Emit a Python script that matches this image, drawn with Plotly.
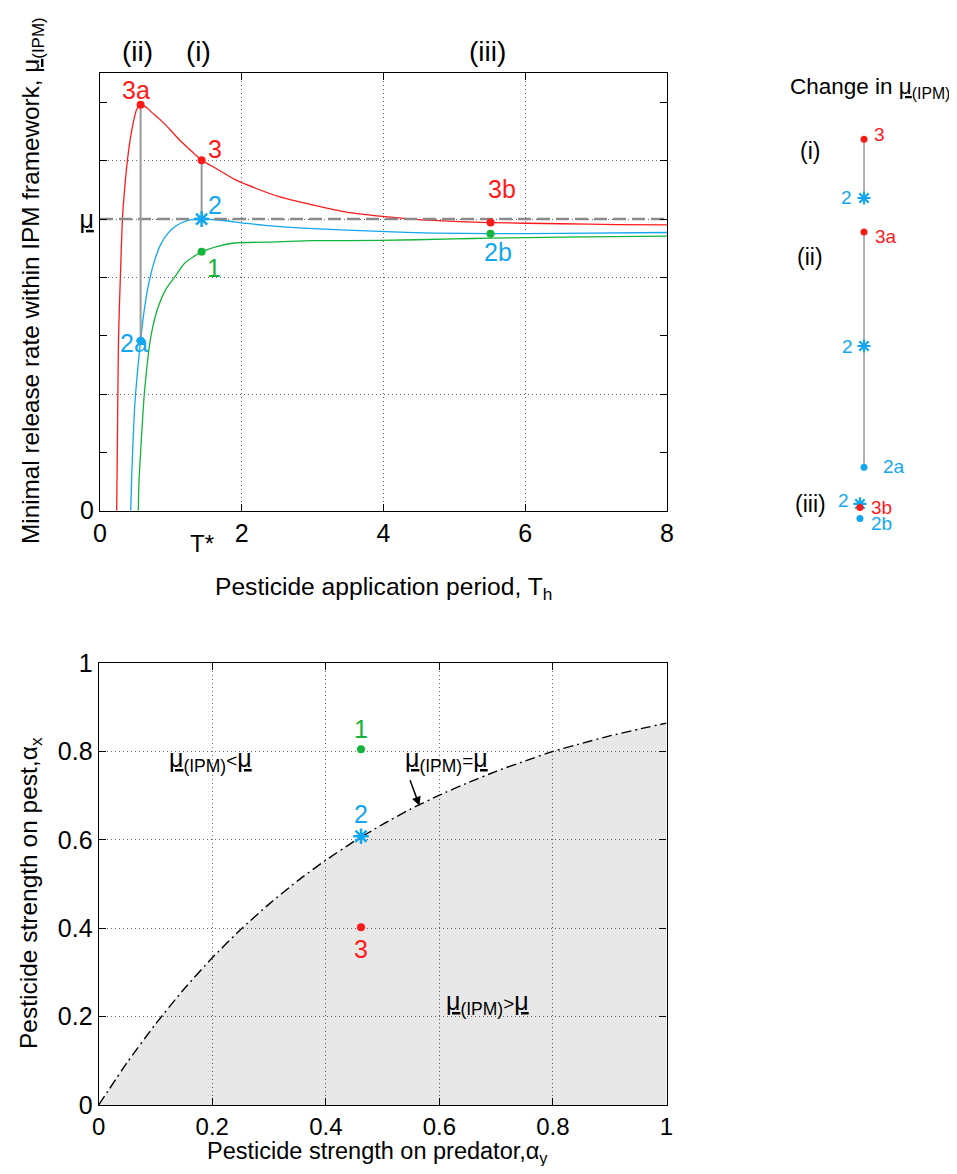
import plotly.graph_objects as go

W, H = 957, 1174          # browser window
OFF = 8                   # default page margin around the figure
FW, FH = W - 2 * OFF, H - 2 * OFF
FONT = "Liberation Sans, Arial, Helvetica, sans-serif"
RED, BLUE, GREEN, GRAY = "#ff1a1a", "#12a7f0", "#13b43a", "#9a9a9a"

def fx(p):  # page pixel x -> paper
    return (p - OFF) / FW

def fy(p):  # page pixel y -> paper
    return 1 - (p - OFF) / FH

# ---------------- data : top panel ----------------
red_T = [0.235, 0.244, 0.252, 0.262, 0.287, 0.316, 0.343, 0.386, 0.423, 0.46, 0.517, 0.573,
         0.65, 0.73, 0.87, 1.0, 1.12, 1.25, 1.34, 1.434, 1.65, 1.9, 2.07, 2.54, 3.01, 3.48,
         3.95, 4.5, 5.0, 5.51, 6.5, 7.3, 8.0]
red_mu = [0.0, 0.1, 0.2, 0.3, 0.4, 0.5, 0.545, 0.6, 0.634, 0.66, 0.688, 0.696,
          0.692, 0.683, 0.668, 0.652, 0.636, 0.621, 0.611, 0.601, 0.586, 0.568, 0.559, 0.538,
          0.524, 0.512, 0.505, 0.499, 0.496, 0.494, 0.492, 0.4905, 0.490]
blue_T = [0.433, 0.445, 0.46, 0.49, 0.53, 0.573, 0.62, 0.68, 0.76, 0.85, 0.96, 1.08, 1.22,
          1.434, 1.7, 2.07, 2.54, 3.01, 3.95, 4.7, 5.51, 6.5, 8.0]
blue_mu = [0.0, 0.05, 0.1, 0.18, 0.24, 0.2916, 0.34, 0.385, 0.425, 0.455, 0.476, 0.489, 0.497,
           0.5, 0.498, 0.4925, 0.487, 0.4835, 0.479, 0.476, 0.475, 0.4755, 0.477]
green_T = [0.54, 0.55, 0.573, 0.625, 0.72, 0.823, 0.93, 1.05, 1.2, 1.434, 1.65, 1.9, 2.5, 3.0,
           3.95, 5.0, 5.51, 6.5, 8.0]
green_mu = [0.0, 0.05, 0.1, 0.2, 0.3, 0.35, 0.38, 0.4, 0.425, 0.444, 0.453, 0.459, 0.461, 0.463,
            0.4634, 0.466, 0.4674, 0.469, 0.4708]
mu_bar = 0.5
T_star = 1.434

# marked points in the top panel
pt_T = [0.573, 1.434, 1.434, 1.434, 0.573, 5.51, 5.51]
pt_mu = [0.696, 0.601, 0.5, 0.444, 0.2916, 0.494, 0.475]
pt_label = ["3a", "3", "2", "1", "2a", "3b", "2b"]
pt_color = [RED, RED, BLUE, GREEN, BLUE, RED, GREEN]
pt_label_color = [RED, RED, BLUE, GREEN, BLUE, RED, BLUE]
pt_symbol = ["circle", "circle", "asterisk-open", "circle", "circle", "circle", "circle"]
pt_dx = [-5, 13, 13, 12, -7, 11, 7]
pt_dy = [15, 11, 14, -16, -2, 34, -18]

# vertical connectors
conn_T = [0.573, 1.434]
conn_lo = [0.2916, 0.5]
conn_hi = [0.696, 0.601]

case_labels = ["(ii)", "(i)", "(iii)"]
case_T = [0.573, 1.434, 5.51]

# ---------------- data : right panel ----------------
grp_names = ["(i)", "(ii)", "(iii)"]
grp_labels = [["3", "2"], ["3a", "2", "2a"], ["2", "3b", "2b"]]
grp_values = [[0.601, 0.5], [0.696, 0.5, 0.2916], [0.5, 0.494, 0.475]]
grp_colors = [[RED, BLUE], [RED, BLUE, BLUE], [BLUE, RED, BLUE]]
grp_symbols = [["circle", "asterisk-open"], ["circle", "asterisk-open", "circle"],
               ["asterisk-open", "circle", "circle"]]
grp_offset = [0.0876, -0.1667, -0.4381]
grp_x = [0.553, 0.553, 0.529]
grp_lab_dx = [[15, -18], [22, -17, 30], [-16, 22, 22]]
grp_lab_dy = [[5, 0], [-5, 0, 1], [3, 0, -5]]
grp_name_py = [151, 257, 504]

# ---------------- data : bottom panel ----------------
alpha_y = [0, 0.05, 0.1, 0.15, 0.2, 0.25, 0.3, 0.35, 0.4, 0.45, 0.5, 0.55, 0.6, 0.65, 0.7,
           0.75, 0.8, 0.85, 0.9, 0.95, 1.0]
alpha_x_boundary = [0, 0.096, 0.183, 0.262, 0.333, 0.397, 0.4545, 0.507, 0.554, 0.5965, 0.635,
                    0.670, 0.701, 0.729, 0.755, 0.778, 0.800, 0.818, 0.835, 0.850, 0.864]
bp_ay = [0.462, 0.462, 0.462]
bp_ax = [0.805, 0.608, 0.402]
bp_label = ["1", "2", "3"]
bp_color = [GREEN, BLUE, RED]
bp_symbol = ["circle", "asterisk-open", "circle"]
bp_dy = [20, 22, -22]

fig = go.Figure()

# ---- top panel curves ----
for T, m, c in [(red_T, red_mu, RED), (blue_T, blue_mu, BLUE), (green_T, green_mu, GREEN)]:
    fig.add_trace(go.Scatter(x=T, y=m, mode="lines", line=dict(color=c, width=1.3, shape="spline", smoothing=0.6),
                             xaxis="x", yaxis="y", showlegend=False, hoverinfo="skip"))
fig.add_trace(go.Scatter(x=[0, 8], y=[mu_bar, mu_bar], mode="lines",
                         line=dict(color="#8a8a8a", width=2.5, dash="13px,6px"),
                         xaxis="x", yaxis="y", showlegend=False))
for t, lo, hi in zip(conn_T, conn_lo, conn_hi):
    fig.add_trace(go.Scatter(x=[t, t], y=[lo, hi], mode="lines", line=dict(color=GRAY, width=2),
                             xaxis="x", yaxis="y", showlegend=False))
for t, m, c, s in zip(pt_T, pt_mu, pt_color, pt_symbol):
    fig.add_trace(go.Scatter(x=[t], y=[m], mode="markers",
                             marker=dict(color=c, symbol=s, size=13 if "asterisk" in s else 8,
                                         line=dict(color=c, width=2.5 if "asterisk" in s else 0)),
                             xaxis="x", yaxis="y", showlegend=False))
# green T* tick below axis
fig.add_trace(go.Scatter(x=[T_star], y=[-0.016], mode="markers", cliponaxis=False,
                         marker=dict(symbol="line-ns", size=12, line=dict(color=GREEN, width=2)),
                         xaxis="x", yaxis="y", showlegend=False))

# ---- right panel ----
for gi in range(3):
    ys = [grp_offset[gi] + v for v in grp_values[gi]]
    xs = [grp_x[gi]] * len(ys)
    if gi < 2:
        fig.add_trace(go.Scatter(x=[xs[0], xs[-1]], y=[ys[0], ys[-1]], mode="lines",
                                 line=dict(color=GRAY, width=1.5), xaxis="x3", yaxis="y3", showlegend=False))
    for x, y, c, s in zip(xs, ys, grp_colors[gi], grp_symbols[gi]):
        fig.add_trace(go.Scatter(x=[x], y=[y], mode="markers",
                                 marker=dict(color=c, symbol=s, size=11 if "asterisk" in s else 7,
                                             line=dict(color=c, width=2.2 if "asterisk" in s else 0)),
                                 xaxis="x3", yaxis="y3", showlegend=False))

# ---- bottom panel ----
fig.add_trace(go.Scatter(x=alpha_y, y=alpha_x_boundary, mode="lines", fill="tozeroy",
                         fillcolor="rgba(0,0,0,0.09)",
                         line=dict(color="black", width=1.4, dash="10px,4px,2px,4px", shape="spline", smoothing=0.5),
                         xaxis="x2", yaxis="y2", showlegend=False))
for a, b, c, s in zip(bp_ay, bp_ax, bp_color, bp_symbol):
    fig.add_trace(go.Scatter(x=[a], y=[b], mode="markers",
                             marker=dict(color=c, symbol=s, size=13 if "asterisk" in s else 8,
                                         line=dict(color=c, width=2.5 if "asterisk" in s else 0)),
                             xaxis="x2", yaxis="y2", showlegend=False))

C = dict(xanchor="center", yanchor="middle", showarrow=False)
ann = []
# top point labels
for t, m, lab, c, dx, dy in zip(pt_T, pt_mu, pt_label, pt_label_color, pt_dx, pt_dy):
    ann.append(dict(C, x=t, y=m, xref="x", yref="y", text=lab, xshift=dx, yshift=dy,
                    font=dict(family=FONT, size=25, color=c)))
for lab, t in zip(case_labels, case_T):
    ann.append(dict(C, x=t, y=fy(52), xref="x", yref="paper", text=lab, xshift=-3,
                    font=dict(family=FONT, size=28, color="black")))
ann.append(dict(C, x=T_star, y=fy(543), xref="x", yref="paper", text="T*",
                font=dict(family=FONT, size=24, color="black")))
ann.append(dict(C, x=fx(383), y=fy(588), xref="paper", yref="paper",
                text="Pesticide application period, T<sub>h</sub>",
                font=dict(family=FONT, size=24.6, color="black")))
ann.append(dict(C, x=fx(33), y=fy(281), xref="paper", yref="paper", textangle=-90,
                text="Minimal release rate within IPM framework, <u>μ</u><sub>(IPM)</sub>",
                font=dict(family=FONT, size=24.3, color="black")))
# right panel labels
ann.append(dict(C, x=fx(870), y=fy(88), xref="paper", yref="paper",
                text="Change in <u>μ</u><sub>(IPM)</sub>",
                font=dict(family=FONT, size=22.5, color="black")))
for gi in range(3):
    ann.append(dict(C, x=fx(810), y=fy(grp_name_py[gi]), xref="paper", yref="paper", text=grp_names[gi],
                    font=dict(family=FONT, size=23, color="black")))
    for lab, v, c, dx, dy in zip(grp_labels[gi], grp_values[gi], grp_colors[gi], grp_lab_dx[gi], grp_lab_dy[gi]):
        ann.append(dict(C, x=grp_x[gi], y=grp_offset[gi] + v, xref="x3", yref="y3", text=lab,
                        xshift=dx, yshift=dy, font=dict(family=FONT, size=19, color=c)))
# bottom labels
for a, b, lab, c, dy in zip(bp_ay, bp_ax, bp_label, bp_color, bp_dy):
    ann.append(dict(C, x=a, y=b, xref="x2", yref="y2", text=lab, yshift=dy,
                    font=dict(family=FONT, size=25, color=c)))
REL = "<u>μ</u><sub>(IPM)</sub><span style='font-size:19px'>%s</span><u>μ</u>"
ann.append(dict(C, x=fx(210), y=fy(760), xref="paper", yref="paper", text=REL % "&lt;",
                font=dict(family=FONT, size=25, color="black")))
ann.append(dict(C, x=fx(446), y=fy(760), xref="paper", yref="paper", text=REL % "=",
                font=dict(family=FONT, size=25, color="black")))
ann.append(dict(x=0.565, y=0.677, xref="x2", yref="y2", ax=-10, ay=-27, text="", showarrow=True,
                arrowhead=2, arrowsize=1.2, arrowwidth=1.5, arrowcolor="black"))
ann.append(dict(C, x=fx(487), y=fy(1003), xref="paper", yref="paper", text=REL % "&gt;",
                font=dict(family=FONT, size=25, color="black")))
ann.append(dict(C, x=fx(377), y=fy(1152.5), xref="paper", yref="paper",
                text="Pesticide strength on predator,α<sub>y</sub>",
                font=dict(family=FONT, size=23.5, color="black")))
ann.append(dict(C, x=fx(30), y=fy(893), xref="paper", yref="paper", textangle=-90,
                text="Pesticide strength on pest,α<sub>x</sub>",
                font=dict(family=FONT, size=24.5, color="black")))

axis_common = dict(showline=True, linecolor="black", linewidth=1.3, mirror="ticks", ticks="inside",
                   ticklen=7, tickcolor="black", zeroline=False, showgrid=True, gridcolor="#666666",
                   griddash="1px,3px", gridwidth=1, tickfont=dict(family=FONT, size=25, color="black"),
                   automargin=False)

fig.update_layout(
    width=FW, height=FH, margin=dict(l=0, r=0, t=0, b=0, pad=0, autoexpand=False),
    paper_bgcolor="white", plot_bgcolor="white", showlegend=False,
    annotations=ann,
    xaxis=dict(axis_common, domain=[fx(100), fx(667)], range=[0, 8], anchor="y",
               tickvals=[0, 2, 4, 6, 8], ticktext=["0", "2", "4", "6", "8"]),
    yaxis=dict(axis_common, domain=[fy(510.7), fy(73.3)], range=[0, 0.75], anchor="x",
               tickvals=[0, 0.2, 0.4, 0.5, 0.6], ticktext=["0", " ", " ", "<u>μ</u>", " "],
               minor=dict(tickvals=[0.1, 0.3, 0.7], ticks="inside", ticklen=7, tickcolor="black", showgrid=False)),
    xaxis2=dict(axis_common, domain=[fx(98.7), fx(666.5)], range=[0, 1], anchor="y2",
                tickvals=[0, 0.2, 0.4, 0.6, 0.8, 1], ticktext=["0", "0.2", "0.4", "0.6", "0.8", "1"],
                tickfont=dict(family=FONT, size=24, color="black")),
    yaxis2=dict(axis_common, domain=[fy(1105), fy(663)], range=[0, 1], anchor="x2",
                tickvals=[0, 0.2, 0.4, 0.6, 0.8, 1], ticktext=["0", "0.2", "0.4", "0.6", "0.8", "1"]),
    xaxis3=dict(domain=[fx(770), fx(940)], range=[0, 1], visible=False, anchor="y3", fixedrange=True),
    yaxis3=dict(domain=[fy(540), fy(60)], range=[0, 0.8247], visible=False, anchor="x3", fixedrange=True),
)

fig.write_html("out.html")
